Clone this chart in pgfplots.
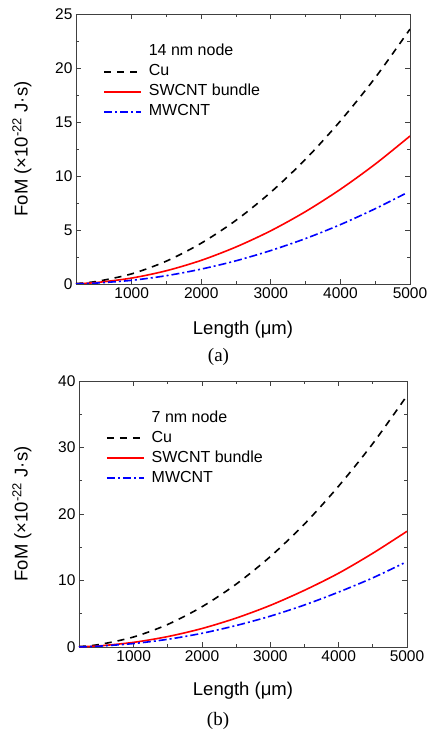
\documentclass[border=0pt]{standalone}
\usepackage{fontspec}
\setmainfont{Liberation Sans}
\newfontfamily\capfont{Liberation Serif}
\usepackage{pgfplots}
\pgfplotsset{compat=1.18}

\pgfplotsset{
  fom/.style={
    scale only axis,
    xmin=200, xmax=5000, ymin=0,
    xtick={1000,2000,3000,4000,5000},
    minor x tick num=1,
    minor y tick num=1,
    tick align=inside,
    major tick length=5pt, minor tick length=3pt,
    axis line style={line width=0.9pt, black!75},
    every tick/.style={black!75, line width=0.7pt},
    tick label style={font=\fontsize{15.5}{17}\selectfont},
    /pgf/number format/assume math mode=true,
    /pgf/number format/1000 sep={},
    label style={font=\fontsize{18.5}{20}\selectfont},
    xlabel={Length (μm)},
    ylabel={FoM (×10\textsuperscript{-22} J·s)},
    legend cell align=left,
    legend style={draw=none, fill=none, font=\fontsize{16}{18}\selectfont,
      row sep=6pt, inner sep=0pt, anchor=north west,
      nodes={inner sep=0pt, text height=11pt, text depth=3pt},
      /tikz/every odd column/.append style={column sep=7pt}},
    legend image code/.code={\draw[#1, line width=1.6pt] (0pt,0pt) -- (37pt,0pt);},
    every axis plot/.append style={line width=1.6pt, smooth},
  },
  cu/.style={black, dash pattern=on 7pt off 6pt},
  sw/.style={red},
  mw/.style={blue, dash pattern=on 8pt off 3pt on 2pt off 3pt},
}

\begin{document}
\begin{tikzpicture}
% (a) 14 nm node
\begin{axis}[fom, at={(76pt,450pt)}, anchor=south west,
  width=334pt, height=270pt, ymax=25,
  ytick={0,5,10,15,20,25},
  ylabel style={at={(axis description cs:-0.162,0.5)}, anchor=center},
  xlabel style={at={(axis description cs:0.5,0)}, anchor=center, yshift=-46pt},
  legend style={at={(rel axis cs:0.081,0.887)}}]
\addlegendimage{empty legend}
\addlegendentry{14 nm node}
\addplot[cu] coordinates {(200,0.04) (500,0.24) (1000,0.94) (1500,2.12) (2000,3.78) (2500,5.9) (3000,8.5) (3500,11.56) (4000,15.1) (4500,19.1) (5000,23.6)};
\addlegendentry{Cu}
\addplot[sw] coordinates {(200,0.02) (500,0.14) (1000,0.55) (1500,1.23) (2000,2.19) (2500,3.43) (3000,4.93) (3500,6.71) (4000,8.77) (4500,11.1) (5000,13.7)};
\addlegendentry{SWCNT bundle}
\addplot[mw] coordinates {(200,0.01) (500,0.09) (1000,0.34) (1500,0.77) (2000,1.38) (2500,2.15) (3000,3.1) (3500,4.21) (4000,5.5) (4500,6.97) (4950,8.43)};
\addlegendentry{MWCNT}
\end{axis}
% (b) 7 nm node
\begin{axis}[fom, at={(79pt,87pt)}, anchor=south west,
  width=328pt, height=266pt, ymax=40,
  ytick={0,10,20,30,40},
  ylabel style={at={(axis description cs:-0.174,0.5)}, anchor=center},
  xlabel style={at={(axis description cs:0.5,0)}, anchor=center, yshift=-44pt},
  legend style={at={(rel axis cs:0.082,0.887)}}]
\addlegendimage{empty legend}
\addlegendentry{7 nm node}
\addplot[cu] coordinates {(200,0.06) (500,0.38) (1000,1.51) (1500,3.4) (2000,6.05) (2500,9.45) (3000,13.6) (3500,18.5) (4000,24.2) (4500,30.6) (5000,37.8)};
\addlegendentry{Cu}
\addplot[sw] coordinates {(200,0.03) (500,0.17) (1000,0.7) (1500,1.57) (2000,2.78) (2500,4.35) (3000,6.26) (3500,8.53) (4000,11.1) (4500,14.1) (5000,17.4)};
\addlegendentry{SWCNT bundle}
\addplot[mw] coordinates {(200,0.02) (500,0.13) (1000,0.52) (1500,1.16) (2000,2.06) (2500,3.23) (3000,4.64) (3500,6.32) (4000,8.26) (4500,10.4) (4950,12.6)};
\addlegendentry{MWCNT}
\end{axis}
\node[font=\capfont\fontsize{19}{21}\selectfont] at (218.5pt,377pt) {(a)};
\node[font=\capfont\fontsize{19}{21}\selectfont] at (218pt,13pt) {(b)};
\pgfresetboundingbox
\path[use as bounding box] (0pt,0pt) rectangle (427pt,734pt);
\end{tikzpicture}
\end{document}
